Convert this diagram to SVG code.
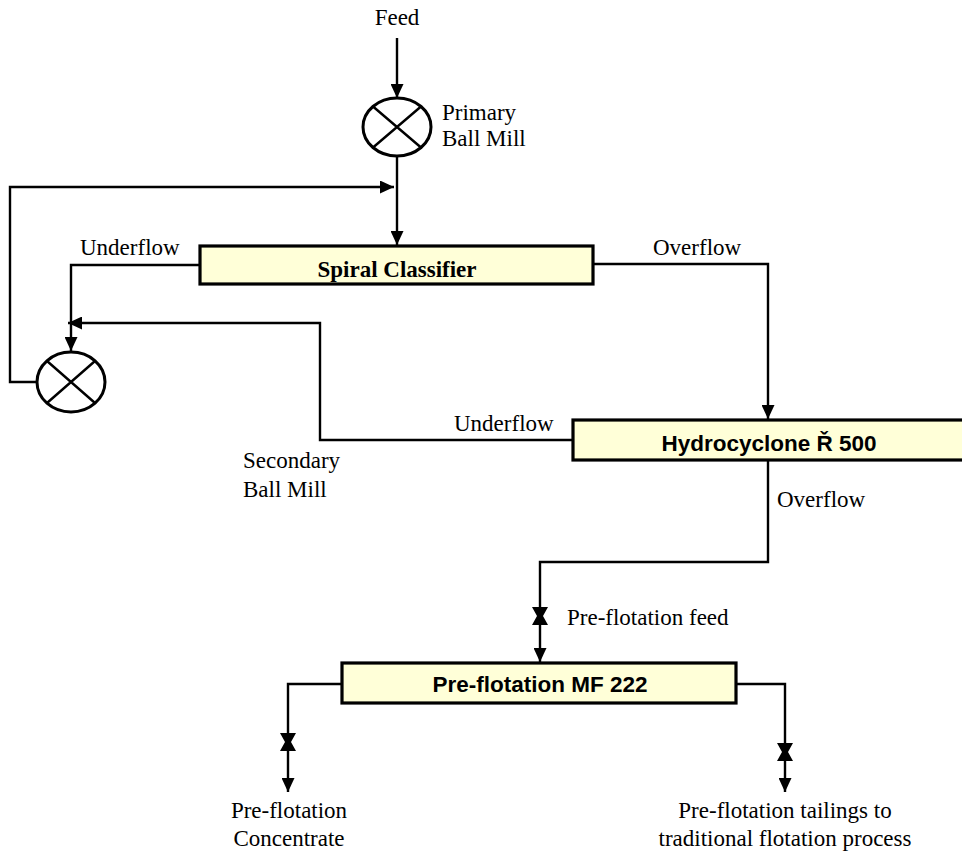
<svg xmlns="http://www.w3.org/2000/svg" width="962" height="853" viewBox="0 0 962 853">
<defs>
<marker id="arr" viewBox="0 0 14 13" refX="14" refY="6.5" markerWidth="14" markerHeight="13" markerUnits="userSpaceOnUse" orient="auto">
<path d="M0,0 L14,6.5 L0,13 Z" fill="#000"/>
</marker>
<style>
.ln{fill:none;stroke:#000;stroke-width:2.4}
.box{fill:#FFFFD8;stroke:#000;stroke-width:3.2}
.mill{fill:#fff;stroke:#000;stroke-width:3}
.lbl{font-family:"Liberation Serif","Times New Roman",serif;font-size:23px;fill:#000}
.bt{font-family:"Liberation Serif","Times New Roman",serif;font-size:23px;font-weight:bold;fill:#000}
.bs{font-family:"Liberation Sans",Arial,sans-serif;font-size:22.5px;font-weight:bold;fill:#000}
.valve{fill:#000}
</style>
</defs>
<rect width="962" height="853" fill="#fff"/>

<g id="connectors">
<path class="ln" d="M397,38 L397,98" marker-end="url(#arr)"/>
<path class="ln" d="M397,156 L397,245" marker-end="url(#arr)"/>
<path class="ln" d="M37,382 L10,382 L10,187 L394,187" marker-end="url(#arr)"/>
<path class="ln" d="M200,265 L71,265 L71,351" marker-end="url(#arr)"/>
<path class="ln" d="M573,440 L320,440 L320,323 L68,323" marker-end="url(#arr)"/>
<path class="ln" d="M593,264 L768,264 L768,419" marker-end="url(#arr)"/>
<path class="ln" d="M768,460 L768,562 L540,562 L540,662" marker-end="url(#arr)"/>
<path class="ln" d="M342,684 L288,684 L288,792" marker-end="url(#arr)"/>
<path class="ln" d="M736,684 L785,684 L785,792" marker-end="url(#arr)"/>
<path class="valve" d="M532,607 L548,607 L543,616 L548,625 L532,625 L537,616 Z"/>
<path class="valve" d="M280,733 L296,733 L291,742 L296,751 L280,751 L285,742 Z"/>
<path class="valve" d="M777,743 L793,743 L788,752 L793,761 L777,761 L782,752 Z"/>
</g>

<g id="feed">
<text class="lbl" x="397" y="25" text-anchor="middle">Feed</text>
</g>

<g id="primary-mill">
<ellipse class="mill" cx="397" cy="127" rx="34" ry="29"/>
<path class="ln" stroke-width="3" d="M373,106.5 L421,147.5 M421,106.5 L373,147.5"/>
<text class="lbl" x="442" y="120">Primary</text>
<text class="lbl" x="442" y="146">Ball Mill</text>
</g>

<g id="spiral-classifier">
<rect class="box" x="200" y="246" width="393" height="38"/>
<text class="bt" x="397" y="277" text-anchor="middle">Spiral Classifier</text>
</g>

<g id="secondary-mill">
<ellipse class="mill" cx="71" cy="382" rx="34" ry="30"/>
<path class="ln" stroke-width="3" d="M47,361 L95,403 M95,361 L47,403"/>
<text class="lbl" x="243" y="468">Secondary</text>
<text class="lbl" x="243" y="497">Ball Mill</text>
</g>

<g id="hydrocyclone">
<rect class="box" x="573" y="420" width="400" height="40"/>
<text class="bs" x="769" y="451" text-anchor="middle">Hydrocyclone Ř 500</text>
</g>

<g id="preflotation">
<rect class="box" x="342" y="663" width="394" height="40"/>
<text class="bs" x="540" y="692" text-anchor="middle">Pre-flotation MF 222</text>
</g>

<g id="labels">
<text class="lbl" x="80" y="255">Underflow</text>
<text class="lbl" x="653" y="255">Overflow</text>
<text class="lbl" x="454" y="431">Underflow</text>
<text class="lbl" x="777" y="507">Overflow</text>
<text class="lbl" x="567" y="625">Pre-flotation feed</text>
</g>

<g id="concentrate">
<text class="lbl" x="289" y="818" text-anchor="middle">Pre-flotation</text>
<text class="lbl" x="289" y="846" text-anchor="middle">Concentrate</text>
</g>

<g id="tailings">
<text class="lbl" x="785" y="818" text-anchor="middle">Pre-flotation tailings to</text>
<text class="lbl" x="785" y="846" text-anchor="middle">traditional flotation process</text>
</g>
</svg>
